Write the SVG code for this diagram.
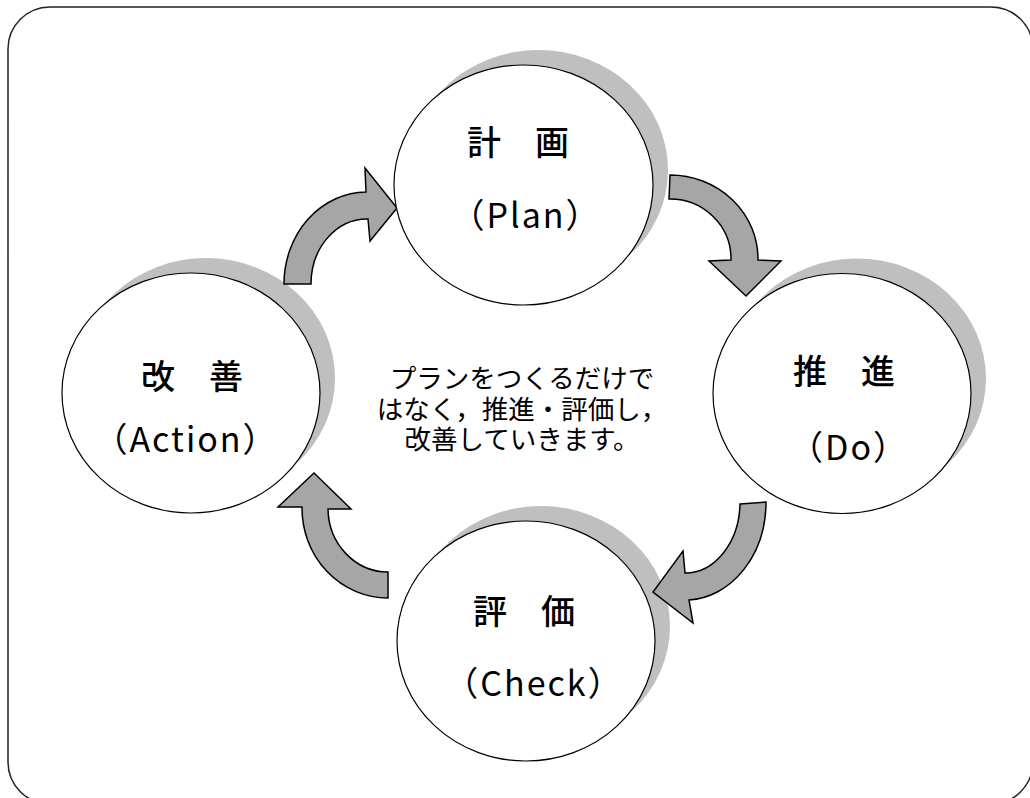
<svg xmlns="http://www.w3.org/2000/svg" width="1030" height="798" viewBox="0 0 1030 798">
<style>
.frame{fill:#fff;stroke:#222;stroke-width:1.5}
.shadow{fill:#bfbfbf;stroke:none}
.node{fill:#fff;stroke:#000;stroke-width:1.2}
.arrow{fill:#a6a6a6;stroke:#000;stroke-width:1.5;stroke-linejoin:miter}
.lbl{font-family:"Noto Sans CJK JP","Noto Sans",sans-serif;font-size:34px;font-weight:500;fill:#000;text-anchor:middle}
.lat{letter-spacing:2px;font-weight:400}
.note{font-family:"Noto Sans CJK JP","Noto Sans",sans-serif;font-size:26.5px;fill:#000;text-anchor:middle}
</style>
<rect class="frame" x="8" y="7" width="1025" height="797" rx="42" ry="42"/>
<g id="shadows">
<ellipse class="shadow" cx="538.5" cy="170" rx="129.5" ry="120"/>
<ellipse class="shadow" cx="857" cy="378.5" rx="129" ry="120"/>
<ellipse class="shadow" cx="541" cy="626" rx="129" ry="120"/>
<ellipse class="shadow" cx="206" cy="378" rx="129" ry="120"/>
</g>
<g id="connectors">
<path id="arrow-action-plan" class="arrow" d="M284,284 A83,92 0 0 1 366,192 L365,168 L397,208 L370,241 L368,219 A56,65 0 0 0 311,284 Z"/>
<path id="arrow-plan-do" class="arrow" d="M670,175 A88,84 0 0 1 758,260 L781,261 L746,296 L709,261 L731,260 A61,60 0 0 0 669,199 Z"/>
<path id="arrow-do-check" class="arrow" d="M740,504 L766,502 A81,98 0 0 1 689,600 L693,623 L653,592 L683,551 L685,573 A55,71 0 0 0 740,504 Z"/>
<path id="arrow-check-action" class="arrow" d="M388,572 A60,64 0 0 1 328,509 L351,509 L314,473 L278,507 L302,507 A86,90 0 0 0 388,598 Z"/>
</g>
<g id="node-plan">
<ellipse class="node" cx="523.5" cy="185" rx="129.5" ry="120"/>
<text class="lbl" x="518" y="155">計　画</text>
<text class="lbl lat" x="526" y="228">（Plan）</text>
</g>
<g id="node-do">
<ellipse class="node" cx="842" cy="393.5" rx="129" ry="120"/>
<text class="lbl" x="844" y="384">推　進</text>
<text class="lbl lat" x="849" y="460">（Do）</text>
</g>
<g id="node-check">
<ellipse class="node" cx="526" cy="641" rx="129" ry="120"/>
<text class="lbl" x="524" y="624">評　価</text>
<text class="lbl lat" x="534" y="696">（Check）</text>
</g>
<g id="node-action">
<ellipse class="node" cx="191" cy="393" rx="129" ry="120"/>
<text class="lbl" x="192" y="389">改　善</text>
<text class="lbl lat" x="186" y="452">（Action）</text>
</g>
<g id="note">
<text class="note" x="522" y="388">プランをつくるだけで</text>
<text class="note" x="522" y="419">はなく，推進・評価し，</text>
<text class="note" x="522" y="449">改善していきます。</text>
</g>
</svg>
